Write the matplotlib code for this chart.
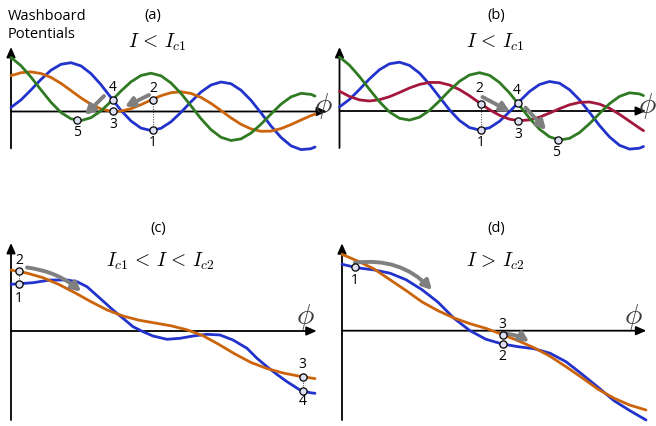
import matplotlib.pyplot as plt

plt.rcParams['mathtext.fontset'] = 'cm'
plt.rcParams['font.family'] = ['Open Sans', 'DejaVu Sans']

# ---- curve data (phi in px from the origin, potential in px above the phi axis)
phi_ab = list(range(0, 301, 10)) + [304]
blue_ab = [4.1, 11.6, 21.6, 32.1, 41.3, 47.2, 48.8, 45.6, 37.9, 26.8, 13.9, 1.1,
           -9.5, -16.6, -19.0, -16.8, -10.3, -0.8, 9.7, 19.5, 26.5, 29.5, 27.8,
           21.3, 11.2, -1.4, -14.5, -25.9, -34.3, -38.1, -37.2, -35.5]
green_ab = [54.0, 45.8, 34.4, 21.6, 9.2, -1.0, -7.3, -9.1, -6.2, 0.6, 10.1, 20.5,
            29.7, 36.0, 38.3, 35.7, 28.5, 18.1, 5.6, -7.2, -18.2, -25.8, -29.0,
            -27.4, -21.6, -12.7, -2.5, 7.3, 14.6, 18.2, 17.1, 15.4]
orange_a = [35.8, 38.8, 39.6, 38.0, 34.1, 28.1, 20.9, 13.6, 7.2, 2.5, 0.2, 0.4,
            2.8, 6.8, 11.5, 15.8, 18.8, 19.7, 18.1, 14.1, 8.1, 1.0, -6.4, -12.8,
            -17.4, -19.8, -19.6, -17.1, -13.1, -8.5, -4.1, -2.7]
red_b = [19.8, 14.5, 11.1, 10.0, 11.3, 14.3, 18.5, 23.0, 26.6, 28.6, 28.5, 26.0,
         21.4, 15.2, 8.1, 1.3, -4.3, -8.2, -9.7, -8.9, -6.2, -2.1, 2.3, 6.2, 8.6,
         9.0, 6.9, 2.7, -3.3, -10.2, -17.1, -19.7]

phi_cd = list(range(0, 305, 16))
orange_c = [61.0, 57.9, 53.3, 46.5, 38.2, 29.3, 21.1, 15.0, 10.8, 8.0, 5.2, 1.2,
            -4.7, -13.5, -23.0, -31.5, -37.5, -42.0, -45.1, -47.6]
phi_blue_c = [0, 22, 39, 56, 66, 76, 89, 102, 112, 122, 132, 142, 156, 169, 182,
              196, 209, 222, 236, 246, 256, 266, 276, 289, 299, 304]
blue_c = [46.7, 48.3, 51.0, 51.0, 49.3, 44.3, 32.7, 21.0, 12.7, 4.3, -0.7, -5.0,
          -8.3, -7.3, -5.0, -3.3, -4.0, -9.0, -17.3, -27.3, -35.7, -43.5, -50.7,
          -59.0, -61.7, -62.3]
blue_d = [66.4, 62.8, 60.8, 57.5, 51.0, 41.0, 28.5, 12.4, 0.0, -8.6, -13.2, -16.0,
          -18.0, -22.5, -31.0, -43.5, -56.5, -70.0, -80.0, -89.3]
orange_d = [76.4, 69.5, 61.8, 51.0, 40.2, 28.8, 20.0, 12.7, 7.0, 2.3, -3.6, -10.0,
            -17.0, -25.5, -36.0, -47.0, -58.5, -67.5, -74.5, -79.3]

# ---- state points, labels, dotted links and gray arrows
pts = {
    'a': ([142, 142, 102, 102, 66], [-18.8, 12.0, 0.2, 11.8, -8.8]),
    'b': ([141, 141, 178.5, 178.5, 218], [-19.1, 7.4, -9.6, 8.0, -29.0]),
    'c': ([8, 8, 291.7, 291.7], [47.3, 59.6, -45.7, -59.8]),
    'd': ([12.7, 161, 161], [63.5, -13.4, -4.0]),
}
labels = {
    'a': (['1', '2', '3', '4', '5'], [142, 142, 102, 102, 66], [-31.5, 23.5, -13.5, 24, -21]),
    'b': (['1', '2', '3', '4', '5'], [141, 140, 178.5, 177.5, 217], [-32, 22.5, -23, 20.5, -42]),
    'c': (['1', '2', '3', '4'], [8, 8, 291.7, 291.7], [32.7, 71, -34, -70.7]),
    'd': (['1', '2', '3'], [12.7, 160, 160], [50.7, -26, 6.7]),
}
dotted = {
    'a': [(142, -18.8, 12.0)],
    'b': [(141, -19.1, 7.4)],
    'c': [(8, 47.3, 59.6), (291.7, -59.8, -45.7)],
    'd': [],
}
arrows = {
    'a': [((138, 16.5), (114, 4.8), 0.0), ((93, 15.5), (74, -3.5), 0.0)],
    'b': [((143, 14), (170.5, -0.7), 0.0), ((186, 3.5), (206.5, -19), 0.0)],
    'c': [((16, 63.5), (70, 39.3), -0.15)],
    'd': [((13, 68), (90, 40.7), -0.25), ((163, -3.0), (187, -11), -0.12)],
}
titles = {'a': '(a)', 'b': '(b)', 'c': '(c)', 'd': '(d)'}
title_pos = {'a': (142, 96), 'b': (156.5, 95.5), 'c': (147, 102.5), 'd': (154, 102.2)}
cond = {'a': r'$I\,<\,I_{c1}$', 'b': r'$I\,<\,I_{c1}$',
        'c': r'$I_{c1}\,<\,I\,<\,I_{c2}$', 'd': r'$I\,>\,I_{c2}$'}
cond_pos = {'a': (146, 69.5), 'b': (155.5, 69), 'c': (149, 70), 'd': (153, 69.7)}
phi_pos = {'a': (312, 5.5), 'b': (308, 5), 'c': (294, 13.5), 'd': (291, 13.7)}
# axis extents: (y bottom, y top, x right)
axis_ext = {'a': (-36.8, 64.5, 316), 'b': (-37, 64, 306.5),
            'c': (-89, 88, 305.7), 'd': (-89.3, 87.4, 304.3)}
# panel box in pixels (x0, y0 top, w, h) and origin pixel
boxes = {'a': (0, 0, 328, 200, 11, 111.5), 'b': (328, 0, 328, 200, 339.5, 111),
         'c': (0, 200, 328, 226, 11, 331), 'd': (328, 200, 328, 226, 342, 330.7)}

BLUE = '#2233cc'
GREEN = '#2f7a22'
ORANGE = '#cc640c'
RED = '#a3173c'
GRAY = '#7f7f7f'

W, H = 656, 426
fig = plt.figure(figsize=(W / 100, H / 100), dpi=100)

axes = {}
for k, (x0, y0, w, h, ox, oy) in boxes.items():
    ax = fig.add_axes([x0 / W, (H - y0 - h) / H, w / W, h / H])
    ax.set_xlim(x0 - ox, x0 + w - ox)
    ax.set_ylim(oy - (y0 + h), oy - y0)
    ax.axis('off')
    axes[k] = ax

curves = {
    'a': [(phi_ab, blue_ab, BLUE), (phi_ab, orange_a, ORANGE), (phi_ab, green_ab, GREEN)],
    'b': [(phi_ab, blue_ab, BLUE), (phi_ab, red_b, RED), (phi_ab, green_ab, GREEN)],
    'c': [(phi_blue_c, blue_c, BLUE), (phi_cd, orange_c, ORANGE)],
    'd': [(phi_cd, blue_d, BLUE), (phi_cd, orange_d, ORANGE)],
}

for k, ax in axes.items():
    yb, yt, xr = axis_ext[k]
    ap = dict(arrowstyle='-|>,head_length=0.5,head_width=0.22', color='k', lw=1.3,
              shrinkA=0, shrinkB=0, mutation_scale=12)
    ax.annotate('', xy=(0, yt), xytext=(0, yb), arrowprops=ap, annotation_clip=False)
    ax.annotate('', xy=(xr, 0), xytext=(0, 0), arrowprops=ap, annotation_clip=False)

    for xs, ys, c in curves[k]:
        ax.plot(xs, ys, color=c, lw=2.0, solid_capstyle='round', zorder=3)

    for x, y1, y2 in dotted[k]:
        ax.plot([x, x], [y1, y2], ls=(0, (1, 1.3)), color='#555555', lw=0.8, zorder=2)

    for (xs, ys), (xe, ye), rad in arrows[k]:
        ax.annotate('', xy=(xe, ye), xytext=(xs, ys), annotation_clip=False,
                    arrowprops=dict(arrowstyle='-|>,head_length=0.45,head_width=0.24',
                                    color=GRAY, lw=2.8, shrinkA=0, shrinkB=0,
                                    mutation_scale=12,
                                    connectionstyle='arc3,rad=%s' % rad),
                    zorder=4)

    px, py = pts[k]
    ax.plot(px, py, 'o', ms=5.2, mfc='#dde0f2', mec='k', mew=0.9, zorder=6,
            clip_on=False)
    for t, lx, ly in zip(*labels[k]):
        ax.text(lx, ly, t, fontsize=10, ha='center', va='center', zorder=7)

    ax.text(*title_pos[k], titles[k], fontsize=10.5, ha='center', va='center')
    ax.text(*cond_pos[k], cond[k], fontsize=14, ha='center', va='center')
    ax.text(*phi_pos[k], r'$\phi$', fontsize=21, ha='center', va='center',
            color='#3a3a3a', clip_on=False)

fig.text(8 / W, 1 - 20 / H, 'Washboard', fontsize=10.5, ha='left', va='baseline')
fig.text(8 / W, 1 - 38 / H, 'Potentials', fontsize=10.5, ha='left', va='baseline')

fig.savefig('out.png', dpi=100)
